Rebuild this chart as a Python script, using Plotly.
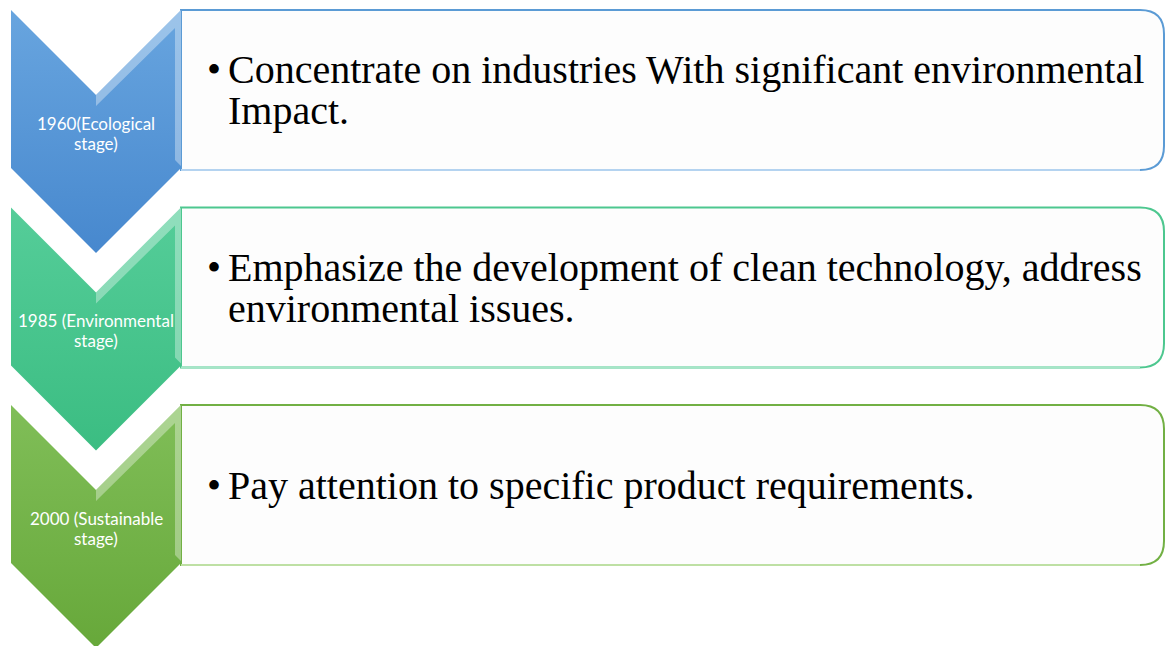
import plotly.graph_objects as go

# ---- data ----
stage_lines = [
    ["1960(Ecological", "stage)"],
    ["1985 (Environmental", "stage)"],
    ["2000 (Sustainable", "stage)"],
]
desc_lines = [
    ["Concentrate on industries With significant environmental", "Impact."],
    ["Emphasize the development of clean technology, address", "environmental issues."],
    ["Pay attention to specific product requirements."],
]
chevron_top_colors = ["#68A5DF", "#55CD99", "#80BE58"]
chevron_bottom_colors = ["#4788CE", "#3BBD82", "#67A83A"]
border_colors = ["#5B9BD5", "#4DC78F", "#72B044"]
border_light = ["#B4D3F0", "#A6E6C8", "#BEE0A4"]

# ---- layout constants ----
W, H = 1166, 646
X0, CW = 11, 170          # chevron left, width
TOP0, STEP = 10, 197.5    # first top, vertical step
CH, D = 158, 85           # chevron side height, notch / tip depth
RX1 = 1164                # rect right edge
RH = 160                  # rect height
R = 24                    # corner radius

fig = go.Figure()
shapes = []
annotations = []

for i in range(len(stage_lines)):
    top = TOP0 + i * STEP
    xl, xr, xm = X0, X0 + CW, X0 + CW / 2
    bot = top + RH
    path = (f"M {xr},{top} L {RX1 - R},{top} Q {RX1},{top} {RX1},{top + R} "
            f"L {RX1},{bot - R} Q {RX1},{bot} {RX1 - R},{bot} L {xr},{bot} Z")
    shapes.append(dict(type="path", path=path, xref="x", yref="y",
                       fillcolor="#FDFDFD", line=dict(color=border_colors[i], width=2),
                       layer="below"))
    shapes.append(dict(type="line", x0=xr, x1=RX1 - R, y0=bot, y1=bot, xref="x", yref="y",
                       line=dict(color=border_light[i], width=2), layer="below"))

    # chevron
    cx = [xl, xm, xr, xr, xm, xl, xl]
    cy = [top, top + D, top, top + CH, top + CH + D, top + CH, top]
    fig.add_trace(go.Scatter(
        x=cx, y=cy, mode="lines", fill="toself", line=dict(width=0, color=chevron_bottom_colors[i]),
        fillgradient=dict(type="vertical",
                          colorscale=[[0, chevron_bottom_colors[i]], [1, chevron_top_colors[i]]]),
        hoverinfo="skip", showlegend=False))
    # bevel highlight along the upper-right edge
    hx = [xm, xr, xr, xr - 6, xr - 6, xm]
    hy = [top + D, top, top + CH - 2, top + CH - 8, top + 18, top + D + 11]
    fig.add_trace(go.Scatter(
        x=hx, y=hy, mode="lines", fill="toself", line=dict(width=0, color="rgba(255,255,255,0)"),
        fillcolor="rgba(255,255,255,0.35)", hoverinfo="skip", showlegend=False))

    # stage labels
    lc = top + 123
    for j, t in enumerate(stage_lines[i]):
        annotations.append(dict(x=xm, y=lc - 10 + 20 * j, text=t, showarrow=False,
                                xref="x", yref="y", xanchor="center", yanchor="middle",
                                font=dict(family="Lato, Open Sans, sans-serif", size=17,
                                          color="white")))

    # description text
    n = len(desc_lines[i])
    center = top + RH / 2
    for j, t in enumerate(desc_lines[i]):
        yc = center - 20.5 * (n - 1) + 41 * j
        if j == 0:
            annotations.append(dict(x=214, y=yc, text="•", showarrow=False, xref="x", yref="y",
                                    xanchor="center", yanchor="middle",
                                    font=dict(family="Liberation Serif, serif", size=40,
                                              color="black")))
        annotations.append(dict(x=226, y=yc, text=t, showarrow=False, xref="x", yref="y",
                                xanchor="left", yanchor="middle",
                                font=dict(family="Liberation Serif, serif", size=40,
                                          color="black")))

fig.update_layout(
    width=W, height=H, margin=dict(l=0, r=0, t=0, b=0),
    paper_bgcolor="white", plot_bgcolor="white",
    xaxis=dict(range=[0, W], visible=False, fixedrange=True),
    yaxis=dict(range=[H, 0], visible=False, fixedrange=True),
    shapes=shapes, annotations=annotations, showlegend=False,
)
fig.write_html("out.html", config={"displayModeBar": False},
               post_script="document.body.style.margin='0';document.body.style.overflow='hidden';")
